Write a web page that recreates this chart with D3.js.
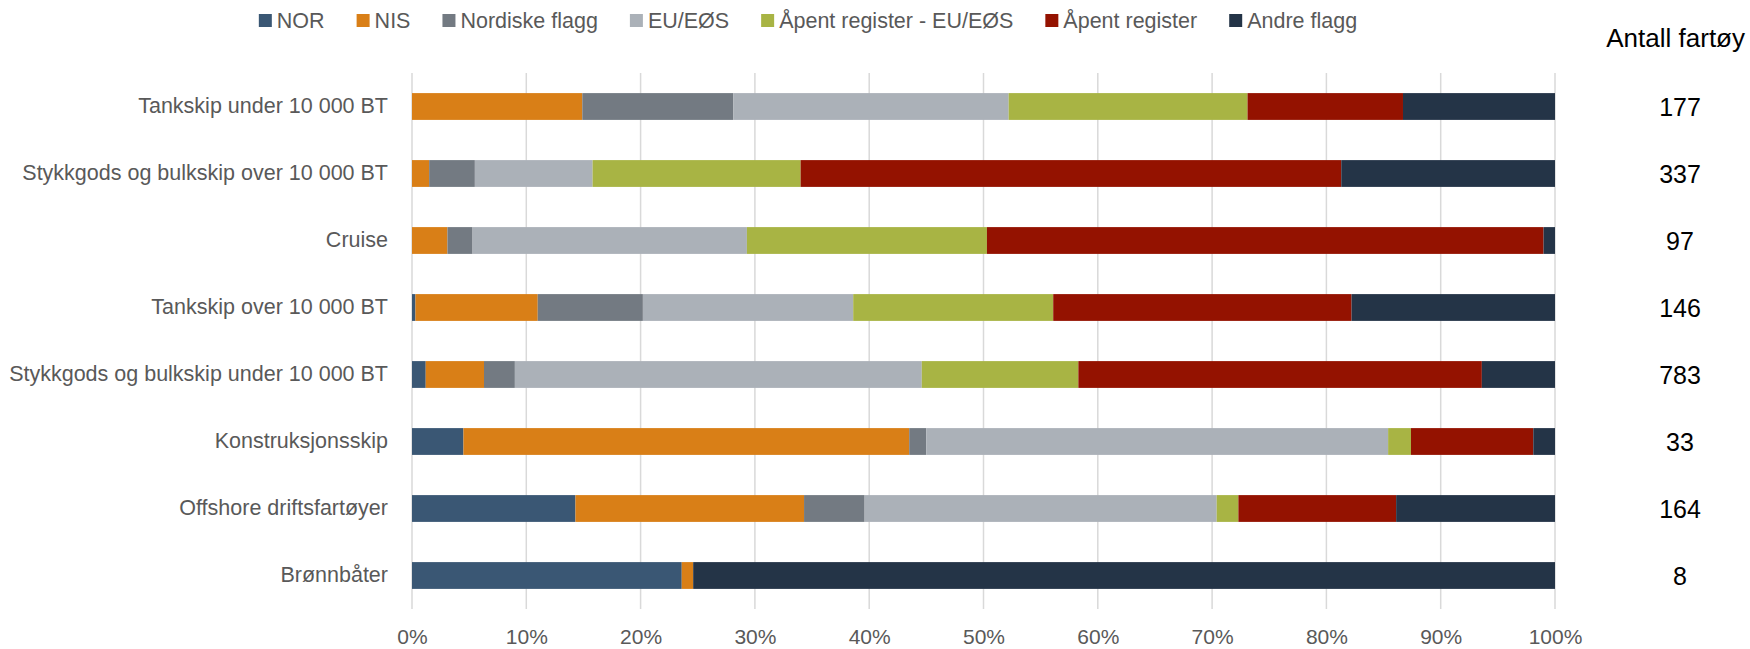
<!DOCTYPE html>
<html>
<head>
<meta charset="utf-8">
<script src="https://cdn.jsdelivr.net/npm/d3@7"></script>
<style>
	body { margin: 0; background: #fff; }
	svg { display: block; font-family: "Liberation Sans", Arial, sans-serif; }
</style>
</head>
<body>
<svg id="chart"></svg>
<script>
const categories = [
	"Tankskip under 10 000 BT",
	"Stykkgods og bulkskip over 10 000 BT",
	"Cruise",
	"Tankskip over 10 000 BT",
	"Stykkgods og bulkskip under 10 000 BT",
	"Konstruksjonsskip",
	"Offshore driftsfartøyer",
	"Brønnbåter"
];
const seriesNames = ["NOR", "NIS", "Nordiske flagg", "EU/EØS", "Åpent register - EU/EØS", "Åpent register", "Andre flagg"];
const colors = ["#3a5774", "#d97f17", "#737a82", "#abb1b8", "#a8b444", "#941200", "#243447"];

// share in percent, one array per flag group, same order as categories
const nor       = [0,    0,    0,    0.3,  1.2,  4.5,  14.3, 23.6];
const nis       = [14.9, 1.5,  3.1,  10.7, 5.1,  39.0, 20.0, 1.0];
const nordiske  = [13.2, 4.0,  2.2,  9.2,  2.7,  1.5,  5.3,  0];
const eueos     = [24.1, 10.3, 24.0, 18.4, 35.6, 40.4, 30.8, 0];
const apentEu   = [20.9, 18.2, 21.0, 17.5, 13.7, 2.0,  1.9,  0];
const apent     = [13.6, 47.3, 48.7, 26.1, 35.3, 10.7, 13.8, 0];
const andre     = [13.3, 18.7, 1.0,  17.8, 6.4,  1.9,  13.9, 75.4];

const antall = [177, 337, 97, 146, 783, 33, 164, 8];
const xTicks = [0, 10, 20, 30, 40, 50, 60, 70, 80, 90, 100];

const width = 1750, height = 649;
const margin = {top: 73, right: 195, bottom: 40, left: 412};
const fontSize = 21.5;
const textGrey = "#595959";

const svg = d3.select("#chart").attr("width", width).attr("height", height);

const seriesValues = [nor, nis, nordiske, eueos, apentEu, apent, andre];
const table = categories.map((c, i) => {
	const row = {category: c};
	seriesNames.forEach((s, j) => row[s] = seriesValues[j][i]);
	return row;
});
const stacked = d3.stack().keys(seriesNames)(table);

const x = d3.scaleLinear()
	.domain([0, 100])
	.range([margin.left, width - margin.right]);
const y = d3.scaleBand()
	.domain(categories)
	.range([margin.top, height - margin.bottom])
	.paddingInner(0.6)
	.paddingOuter(0.3);

// gridlines
svg.append("g")
	.selectAll("line")
	.data(xTicks)
	.join("line")
	.attr("x1", d => x(d)).attr("x2", d => x(d))
	.attr("y1", margin.top).attr("y2", height - margin.bottom)
	.attr("stroke", "#d9d9d9")
	.attr("stroke-width", 1.5);

// bars
svg.append("g")
	.selectAll("g")
	.data(stacked)
	.join("g")
	.attr("fill", (d, i) => colors[i])
	.selectAll("rect")
	.data(d => d)
	.join("rect")
	.attr("x", d => x(d[0]))
	.attr("y", d => y(d.data.category))
	.attr("width", d => x(d[1]) - x(d[0]))
	.attr("height", y.bandwidth());

// x axis
const xAxis = svg.append("g")
	.attr("transform", `translate(0,${height - margin.bottom})`)
	.call(d3.axisBottom(x).tickValues(xTicks).tickSize(0).tickPadding(20).tickFormat(d => d + "%"));
xAxis.select(".domain").remove();
xAxis.selectAll("text")
	.attr("font-size", 21)
	.attr("font-family", "Liberation Sans, Arial, sans-serif")
	.attr("fill", textGrey);

// y axis
const yAxis = svg.append("g")
	.attr("transform", `translate(${margin.left},0)`)
	.call(d3.axisLeft(y).tickSize(0).tickPadding(24));
yAxis.select(".domain").remove();
yAxis.selectAll("text")
	.attr("font-size", fontSize)
	.attr("font-family", "Liberation Sans, Arial, sans-serif")
	.attr("fill", textGrey);

// counts column
svg.append("text")
	.attr("x", 1745)
	.attr("y", 40)
	.attr("text-anchor", "end")
	.attr("dominant-baseline", "middle")
	.attr("font-size", 26)
	.attr("fill", "#000")
	.text("Antall fartøy");

svg.append("g")
	.selectAll("text")
	.data(antall)
	.join("text")
	.attr("x", 1680)
	.attr("y", (d, i) => y(categories[i]) + y.bandwidth() / 2)
	.attr("text-anchor", "middle")
	.attr("dominant-baseline", "central")
	.attr("font-size", 25)
	.attr("fill", "#000")
	.text(d => d);

// legend
const legend = svg.append("g").attr("transform", "translate(0,21)");
const items = legend.selectAll("g")
	.data(seriesNames)
	.join("g");
items.append("rect")
	.attr("y", -7)
	.attr("width", 13)
	.attr("height", 13)
	.attr("fill", (d, i) => colors[i]);
items.append("text")
	.attr("x", 18)
	.attr("dominant-baseline", "central")
	.attr("font-size", fontSize)
	.attr("fill", textGrey)
	.text(d => d);

let cursor = 0;
const offsets = [];
items.each(function() {
	offsets.push(cursor);
	cursor += 18 + this.querySelector("text").getComputedTextLength() + 32;
});
const total = cursor - 32;
const start = 808 - total / 2;
items.attr("transform", (d, i) => `translate(${start + offsets[i]},0)`);
</script>
</body>
</html>
